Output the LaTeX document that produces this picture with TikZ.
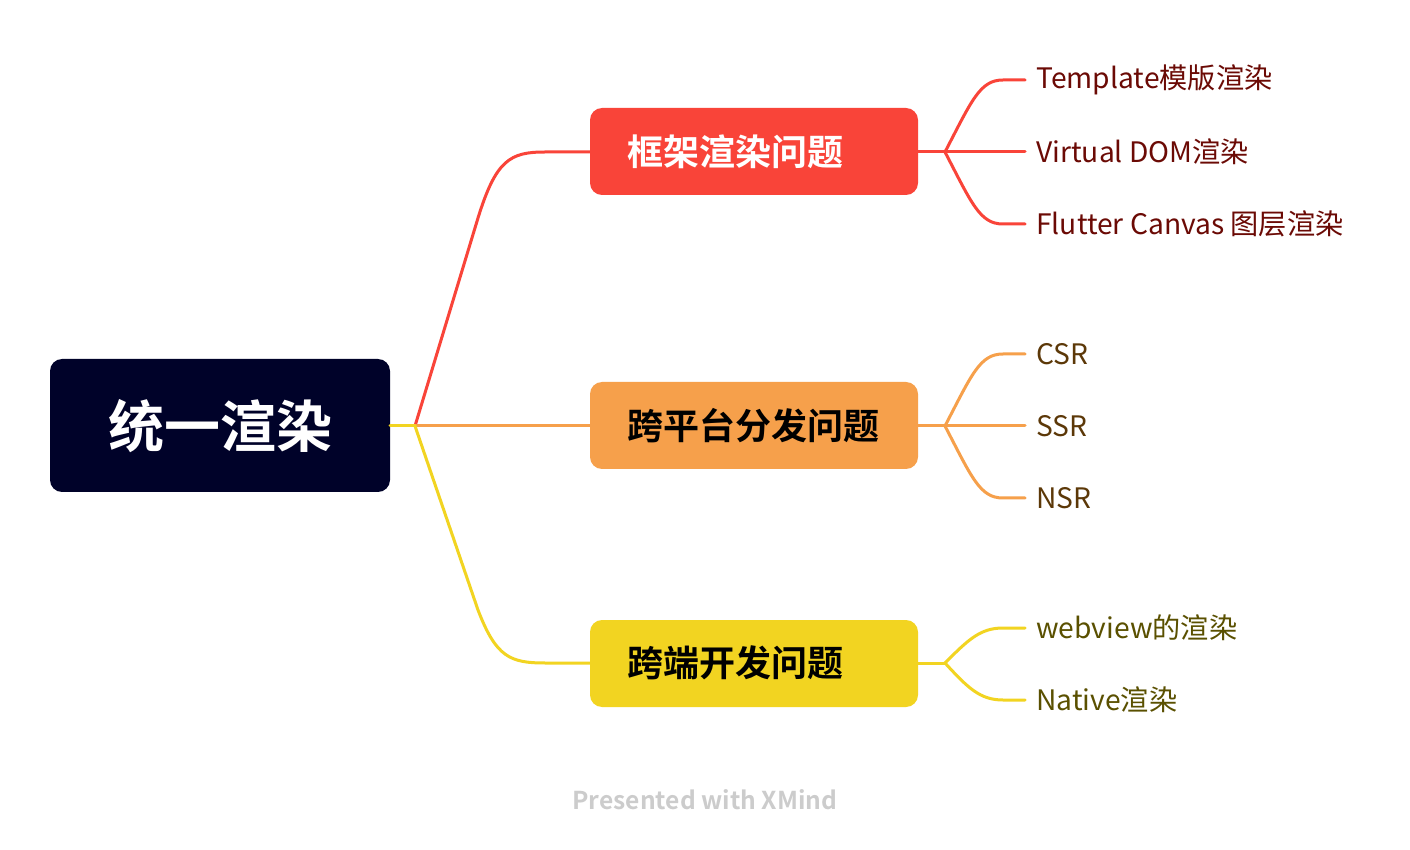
\documentclass[tikz,border=0pt]{standalone}
\usepackage{fontspec}
\setmainfont{Noto Sans CJK SC}
\newfontfamily\cjkbold{Noto Sans CJK SC Bold}
\definecolor{rootc}{HTML}{000229}
\definecolor{redc}{HTML}{F94439}
\definecolor{orangec}{HTML}{F6A04B}
\definecolor{yellowc}{HTML}{F2D421}
\definecolor{redtxt}{HTML}{6B0A05}
\definecolor{orangetxt}{HTML}{5C3808}
\definecolor{yellowtxt}{HTML}{5A5000}
\definecolor{wmc}{HTML}{CCCCCC}
\tikzset{
  box/.style={rounded corners=6pt, draw=none},
  boxtext/.style={anchor=west, inner sep=0pt, font=\cjkbold\fontsize{18}{20}\selectfont},
  leaftext/.style={anchor=west, inner sep=0pt, font=\fontsize{14.1}{16}\selectfont},
  conn/.style={line width=1.5pt, line cap=round}
}
\begin{document}
\begin{tikzpicture}[x=0.5pt,y=-0.5pt]
\useasboundingbox[fill=white] (0,0) rectangle (1410,850);
% root
\fill[box, rootc] (50,359) rectangle (390,492);
\node[inner sep=0pt, text=white, font=\cjkbold\fontsize{28}{30}\selectfont] (root) at (220,426) {统一渲染};
\coordinate (rj) at (415,426);
\coordinate (rr) at (390,426);
% boxes
\fill[box, redc] (590,108) rectangle (918,195);
\fill[box, orangec] (590,382) rectangle (918,469);
\fill[box, yellowc] (590,620) rectangle (918,707);
\coordinate (b1l) at (590,152); \coordinate (b1r) at (918,152);
\coordinate (b2l) at (590,426); \coordinate (b2r) at (918,426);
\coordinate (b3l) at (590,663); \coordinate (b3r) at (918,663);
\node[boxtext, text=white] (t1) at (627,152) {框架渲染问题};
\node[boxtext, text=black] (t2) at (627,426) {跨平台分发问题};
\node[boxtext, text=black] (t3) at (627,663) {跨端开发问题};
% main connectors
\draw[conn, redc] (rj) -- (478,218) .. controls (496,160) and (510,152) .. (545,152) -- (b1l);
\draw[conn, orangec] (rj) -- (b2l);
\draw[conn, yellowc] (rj) -- (478,610) .. controls (496,657) and (510,663) .. (545,663) -- (b3l);
\draw[conn, yellowc] (rr) -- (rj);
% leaf connectors, red
\coordinate (j1) at (945,152);
\draw[conn, redc] (b1r) -- (j1);
\draw[conn, redc] (j1) .. controls (972,100) and (980,80) .. (1003,80) -- (1025,80);
\draw[conn, redc] (j1) -- (1025,152);
\draw[conn, redc] (j1) .. controls (972,204) and (980,224) .. (1003,224) -- (1025,224);
\node[leaftext, text=redtxt] (l11) at (1036,80) {Template模版渲染};
\node[leaftext, text=redtxt] (l12) at (1036,152) {Virtual DOM渲染};
\node[leaftext, text=redtxt] (l13) at (1036,224) {Flutter Canvas 图层渲染};
% orange
\coordinate (j2) at (945,426);
\draw[conn, orangec] (b2r) -- (j2);
\draw[conn, orangec] (j2) .. controls (972,374) and (980,354) .. (1003,354) -- (1025,354);
\draw[conn, orangec] (j2) -- (1025,426);
\draw[conn, orangec] (j2) .. controls (972,478) and (980,498) .. (1003,498) -- (1025,498);
\node[leaftext, text=orangetxt] (l21) at (1036,354) {CSR};
\node[leaftext, text=orangetxt] (l22) at (1036,426) {SSR};
\node[leaftext, text=orangetxt] (l23) at (1036,498) {NSR};
% yellow
\coordinate (j3) at (945,663);
\draw[conn, yellowc] (b3r) -- (j3);
\draw[conn, yellowc] (j3) .. controls (968,640) and (980,628) .. (1003,628) -- (1025,628);
\draw[conn, yellowc] (j3) .. controls (968,688) and (980,700) .. (1003,700) -- (1025,700);
\node[leaftext, text=yellowtxt] (l31) at (1036,628) {webview的渲染};
\node[leaftext, text=yellowtxt] (l32) at (1036,700) {Native渲染};
% watermark
\node[inner sep=0pt, text=wmc, font=\cjkbold\fontsize{12.3}{14}\selectfont] (wm) at (705,800) {Presented with XMind};
\end{tikzpicture}
\end{document}
